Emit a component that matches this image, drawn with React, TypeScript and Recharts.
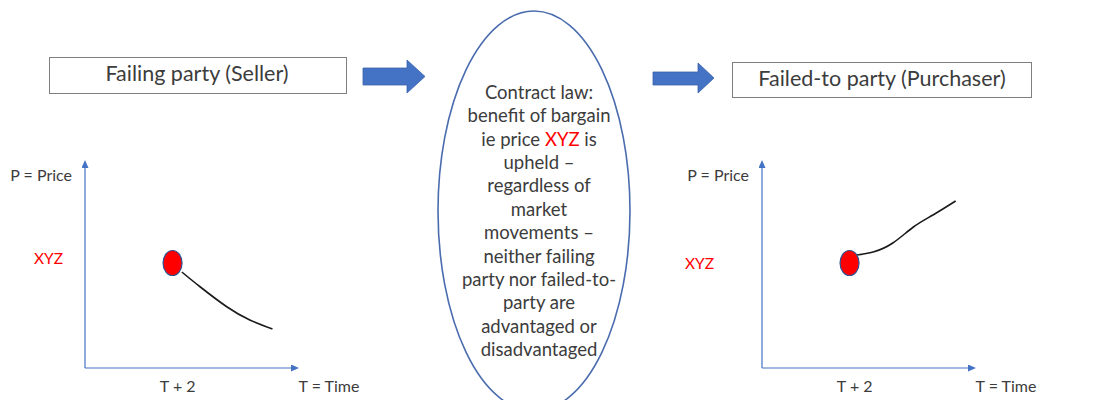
import React from 'react';
import { ComposedChart, Line, Scatter, XAxis, YAxis } from 'recharts';

// price paths after the T + 2 settlement date (t = time, p = price)
const sellerPath = [
  { t: 4.7, p: 4.8 },
  { t: 5.6, p: 4.05 },
  { t: 6.9, p: 3.05 },
  { t: 8.0, p: 2.4 },
  { t: 9.1, p: 1.95 },
];
const purchaserPath = [
  { t: 4.6, p: 5.65 },
  { t: 5.4, p: 5.8 },
  { t: 6.35, p: 6.25 },
  { t: 7.35, p: 7.05 },
  { t: 8.3, p: 7.65 },
  { t: 9.4, p: 8.35 },
];
const contractPoint = [{ t: 4.25, p: 5.25 }];

const priceTicks = [5.25];
const priceTickLabels = ['XYZ'];
const timeTicks = [4.5];
const timeTickLabels = ['T + 2'];

const sellerTitle = 'Failing party (Seller)';
const purchaserTitle = 'Failed-to party (Purchaser)';
const priceAxisTitle = 'P = Price';
const timeAxisTitle = 'T = Time';

const contractLines = [
  'Contract law:',
  'benefit of bargain',
  'ie price |XYZ| is',
  'upheld –',
  'regardless of',
  'market',
  'movements –',
  'neither failing',
  'party nor failed-to-',
  'party are',
  'advantaged or',
  'disadvantaged',
];

const BLUE = '#4472C4';
const TEXT = '#3c3c3c';
const FONT = 'Lato, sans-serif';

const TimeTick = (props: any) => {
  const i = timeTicks.indexOf(props.payload.value);
  return (
    <text x={props.x} y={props.y} dy={16} textAnchor="middle" fill={TEXT} fontSize={16} fontFamily={FONT}>
      {timeTickLabels[i]}
    </text>
  );
};

const makePriceTick = (dx: number, dy: number) => (props: any) => {
  const i = priceTicks.indexOf(props.payload.value);
  return (
    <text x={props.x + dx} y={props.y + dy} textAnchor="end" fill="#FF0000" fontSize={15.5} fontFamily={FONT}>
      {priceTickLabels[i]}
    </text>
  );
};

const PriceTitle = (props: any) => {
  const vb = props.viewBox || {};
  return (
    <text x={vb.x + vb.width - 13} y={vb.y + 13} textAnchor="end" fill={TEXT} fontSize={16} fontFamily={FONT}>
      {priceAxisTitle}
    </text>
  );
};

const TimeTitle = (props: any) => {
  const vb = props.viewBox || {};
  return (
    <text x={vb.x + vb.width + 38} y={vb.y + 24} textAnchor="middle" fill={TEXT} fontSize={16} fontFamily={FONT}>
      {timeAxisTitle}
    </text>
  );
};

const RedDot = (props: any) => (
  <ellipse cx={props.cx} cy={props.cy} rx={9.5} ry={12.5} fill="#FF0000" stroke="#2F528F" strokeWidth={1.2} />
);

function PriceChart({ path, left, width, marginLeft, marginRight, tickDx, tickDy }: any) {
  return (
    <div style={{ position: 'absolute', left, top: 140 }}>
      <ComposedChart
        width={width}
        height={260}
        margin={{ top: 28, right: marginRight, bottom: 0, left: marginLeft }}
      >
        <XAxis
          type="number"
          dataKey="t"
          domain={[0, 10]}
          ticks={timeTicks}
          tickLine={false}
          axisLine={{ stroke: BLUE, strokeWidth: 1.2, markerEnd: 'url(#axis-arrow)' }}
          tick={<TimeTick />}
          height={32}
          allowDataOverflow
          label={<TimeTitle />}
        />
        <YAxis
          type="number"
          dataKey="p"
          domain={[0, 10]}
          ticks={priceTicks}
          tickLine={false}
          axisLine={{ stroke: BLUE, strokeWidth: 1.2, markerStart: 'url(#axis-arrow)' }}
          tick={makePriceTick(tickDx, tickDy)}
          width={60}
          allowDataOverflow
          label={<PriceTitle />}
        />
        <Line
          data={path}
          dataKey="p"
          type="natural"
          stroke="#1a1a1a"
          strokeWidth={1.6}
          dot={false}
          activeDot={false}
          isAnimationActive={false}
        />
        <Scatter data={contractPoint} dataKey="p" shape={<RedDot />} isAnimationActive={false} />
      </ComposedChart>
    </div>
  );
}

export default function App() {
  return (
    <div
      style={{
        position: 'absolute',
        left: 0,
        top: 0,
        width: 1097,
        height: 400,
        background: '#fff',
        overflow: 'hidden',
        fontFamily: FONT,
      }}
    >
      <svg width={1097} height={400} style={{ position: 'absolute', left: 0, top: 0 }}>
        <defs>
          <marker
            id="axis-arrow"
            viewBox="0 0 8 7"
            refX={0}
            refY={3.5}
            markerWidth={8}
            markerHeight={7}
            markerUnits="userSpaceOnUse"
            orient="auto-start-reverse"
          >
            <path d="M0,0 L8,3.5 L0,7 z" fill={BLUE} />
          </marker>
        </defs>

        <rect x={49.5} y={57.5} width={297} height={36} fill="#fff" stroke="#7f7f7f" strokeWidth={1} />
        <text x={197} y={81} textAnchor="middle" fill={TEXT} fontSize={21.5} fontFamily={FONT}>
          {sellerTitle}
        </text>

        <rect x={732.5} y={62.5} width={299} height={35} fill="#fff" stroke="#7f7f7f" strokeWidth={1} />
        <text x={882} y={86} textAnchor="middle" fill={TEXT} fontSize={21.5} fontFamily={FONT}>
          {purchaserTitle}
        </text>

        <polygon
          points="363,68 407,68 407,60 425,76.5 407,93 407,85 363,85"
          fill={BLUE}
          stroke="#3a62ab"
          strokeWidth={0.8}
        />
        <polygon
          points="653,72 698,72 698,63 714,78 698,93 698,85 653,85"
          fill={BLUE}
          stroke="#3a62ab"
          strokeWidth={0.8}
        />

        <ellipse cx={534} cy={211} rx={96} ry={200} fill="none" stroke="#4a6cae" strokeWidth={1.6} />
        {contractLines.map((line, i) => {
          const parts = line.split('|');
          return (
            <text
              key={i}
              x={539}
              y={99 + i * 23.36}
              textAnchor="middle"
              fill={TEXT}
              fontSize={18.5}
              fontFamily={FONT}
            >
              {parts.map((part, j) => (
                <tspan key={j} fill={j === 1 ? '#FF0000' : TEXT}>
                  {part}
                </tspan>
              ))}
            </text>
          );
        })}
      </svg>

      <PriceChart
        path={sellerPath}
        left={0}
        width={380}
        marginLeft={25}
        marginRight={89}
        tickDx={-14}
        tickDy={1}
      />
      <PriceChart
        path={purchaserPath}
        left={660}
        width={437}
        marginLeft={42}
        marginRight={129}
        tickDx={-40}
        tickDy={6}
      />
    </div>
  );
}
